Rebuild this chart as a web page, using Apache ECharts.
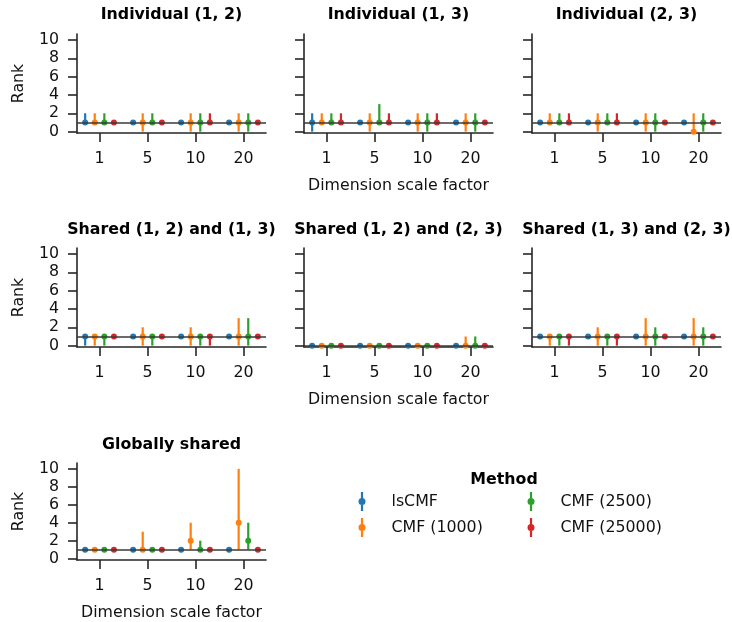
<!DOCTYPE html>
<html>
<head>
<meta charset="utf-8">
<script src="https://cdn.jsdelivr.net/npm/echarts@6/dist/echarts.min.js"></script>
<style>
  html, body { margin: 0; padding: 0; background: #ffffff; }
  #chart { width: 732px; height: 622px; }
</style>
</head>
<body>
<div id="chart"></div>
<script>
// Dimension scale factors (x categories) and the compared methods
const scaleFactors = ['1', '5', '10', '20'];
const methods = ['lsCMF', 'CMF (1000)', 'CMF (2500)', 'CMF (25000)'];
const panelTitles = [
  'Individual (1, 2)', 'Individual (1, 3)', 'Individual (2, 3)',
  'Shared (1, 2) and (1, 3)', 'Shared (1, 2) and (2, 3)', 'Shared (1, 3) and (2, 3)',
  'Globally shared'
];
// True rank of each structure (horizontal reference line)
const trueRanks = [1, 1, 1, 1, 0, 1, 1];
const yTicks = [0, 2, 4, 6, 8, 10];

// Estimated rank per method (rows) and scale factor (columns): [rank, lower, upper]
const individual12 = [
  [[1, 1, 2], [1, 1, 1], [1, 1, 1], [1, 1, 1]],
  [[1, 1, 2], [1, 0, 2], [1, 0, 2], [1, 0, 2]],
  [[1, 1, 2], [1, 1, 2], [1, 0, 2], [1, 0, 2]],
  [[1, 1, 1], [1, 1, 1], [1, 1, 2], [1, 1, 1]]
];
const individual13 = [
  [[1, 0, 2], [1, 1, 1], [1, 1, 1], [1, 1, 1]],
  [[1, 1, 2], [1, 0, 2], [1, 0, 2], [1, 0, 2]],
  [[1, 1, 2], [1, 1, 3], [1, 0, 2], [1, 0, 2]],
  [[1, 1, 2], [1, 1, 2], [1, 1, 2], [1, 1, 1]]
];
const individual23 = [
  [[1, 1, 1], [1, 1, 1], [1, 1, 1], [1, 1, 1]],
  [[1, 1, 2], [1, 0, 2], [1, 0, 2], [0, 0, 2]],
  [[1, 1, 2], [1, 1, 2], [1, 0, 2], [1, 0, 2]],
  [[1, 1, 2], [1, 1, 2], [1, 1, 1], [1, 1, 1]]
];
const shared12and13 = [
  [[1, 0, 1], [1, 1, 1], [1, 1, 1], [1, 1, 1]],
  [[1, 0, 1], [1, 0, 2], [1, 0, 2], [1, 0, 3]],
  [[1, 0, 1], [1, 0, 1], [1, 0, 1], [1, 0, 3]],
  [[1, 1, 1], [1, 1, 1], [1, 0, 1], [1, 1, 1]]
];
const shared12and23 = [
  [[0, 0, 0], [0, 0, 0], [0, 0, 0], [0, 0, 0]],
  [[0, 0, 0], [0, 0, 0], [0, 0, 0], [0, 0, 1]],
  [[0, 0, 0], [0, 0, 0], [0, 0, 0], [0, 0, 1]],
  [[0, 0, 0], [0, 0, 0], [0, 0, 0], [0, 0, 0]]
];
const shared13and23 = [
  [[1, 1, 1], [1, 1, 1], [1, 1, 1], [1, 1, 1]],
  [[1, 0, 1], [1, 0, 2], [1, 0, 3], [1, 0, 3]],
  [[1, 0, 1], [1, 0, 1], [1, 0, 2], [1, 0, 2]],
  [[1, 0, 1], [1, 0, 1], [1, 1, 1], [1, 1, 1]]
];
const globallyShared = [
  [[1, 1, 1], [1, 1, 1], [1, 1, 1], [1, 1, 1]],
  [[1, 1, 1], [1, 1, 3], [2, 1, 4], [4, 1, 10]],
  [[1, 1, 1], [1, 1, 1], [1, 1, 2], [2, 1, 4]],
  [[1, 1, 1], [1, 1, 1], [1, 1, 1], [1, 1, 1]]
];

const panelData = [
  individual12, individual13, individual23,
  shared12and13, shared12and23, shared13and23,
  globallyShared
];

// ---- styling / layout ----
const colors = ['#1f77b4', '#ff7f0e', '#2ca02c', '#d62728'];
const dodge = [-0.3, -0.1, 0.1, 0.3];
const FONT = 'DejaVu Sans';
const FS = 15.8;
const TEXT = '#111111';
const SPINE = '#262626';
const colLeft = [77, 304, 532];
const rowTop = [34, 248, 463];
const GRID_W = 189;
const GRID_H = 99;
const panelPos = [[0, 0], [0, 1], [0, 2], [1, 0], [1, 1], [1, 2], [2, 0]];
const showXName = [false, true, false, false, true, false, true];

const grids = [], xAxes = [], yAxes = [], titles = [], series = [];

panelPos.forEach(([r, c], p) => {
  grids.push({ left: colLeft[c], top: rowTop[r], width: GRID_W, height: GRID_H });

  xAxes.push({
    type: 'value', gridIndex: p, min: -0.47, max: 3.47,
    name: showXName[p] ? 'Dimension scale factor' : '',
    nameLocation: 'middle', nameGap: 45,
    nameTextStyle: { fontFamily: FONT, fontSize: FS, color: TEXT },
    axisLine: { onZero: false, lineStyle: { color: SPINE, width: 1.6 } },
    axisTick: { length: 9, customValues: [0, 1, 2, 3], lineStyle: { color: SPINE, width: 1.6 } },
    axisLabel: {
      customValues: [0, 1, 2, 3], margin: 18,
      fontFamily: FONT, fontSize: FS, color: TEXT,
      formatter: v => scaleFactors[Math.round(v)]
    },
    splitLine: { show: false }
  });

  yAxes.push({
    type: 'value', gridIndex: p, min: -0.15, max: 10.65,
    name: c === 0 ? 'Rank' : '',
    nameLocation: 'middle', nameGap: 50,
    nameTextStyle: { fontFamily: FONT, fontSize: FS, color: TEXT },
    axisLine: { show: true, onZero: false, lineStyle: { color: SPINE, width: 1.6 } },
    axisTick: { show: true, length: 9, customValues: yTicks, lineStyle: { color: SPINE, width: 1.6 } },
    axisLabel: {
      show: c === 0, customValues: yTicks, margin: 18,
      fontFamily: FONT, fontSize: FS, color: TEXT
    },
    splitLine: { show: false }
  });

  titles.push({
    text: panelTitles[p],
    left: colLeft[c] + GRID_W / 2, top: rowTop[r] - (r === 0 ? 27 : 26),
    textAlign: 'center', padding: 0,
    textStyle: { fontFamily: FONT, fontSize: FS, fontWeight: 'bold', color: '#000' }
  });

  // reference line at the true rank
  series.push({
    type: 'line', xAxisIndex: p, yAxisIndex: p, data: [], z: 1,
    markLine: {
      silent: true, symbol: 'none', animation: false,
      label: { show: false },
      lineStyle: { color: '#3a3a3a', width: 1.6, type: 'solid' },
      emphasis: { disabled: true },
      data: [{ yAxis: trueRanks[p] }]
    }
  });

  methods.forEach((m, k) => {
    const rows = panelData[p][k];
    // interval bars
    series.push({
      type: 'custom', name: m, xAxisIndex: p, yAxisIndex: p, z: 2,
      itemStyle: { color: colors[k] },
      encode: { x: 0, y: [1, 2] },
      data: rows.map((d, i) => [i + dodge[k], d[1], d[2]]),
      renderItem: (params, api) => {
        const lo = api.value(1), hi = api.value(2);
        if (lo === hi) return null;
        const a = api.coord([api.value(0), lo]);
        const b = api.coord([api.value(0), hi]);
        return {
          type: 'line',
          shape: { x1: a[0], y1: a[1], x2: b[0], y2: b[1] },
          style: { stroke: colors[k], lineWidth: 2.2 }
        };
      }
    });
    // point estimates
    series.push({
      type: 'scatter', name: m, xAxisIndex: p, yAxisIndex: p, z: 3,
      symbol: 'circle', symbolSize: 6, clip: false,
      itemStyle: { color: colors[k], opacity: 1 },
      data: rows.map((d, i) => [i + dodge[k], d[0]])
    });
  });
});

titles.push({
  text: 'Method', left: 504, top: 472, textAlign: 'center', padding: 0,
  textStyle: { fontFamily: FONT, fontSize: FS, fontWeight: 'bold', color: '#000' }
});

// legend glyph: a vertical interval with a dot in the middle
const legendIcon = 'path://M2.4,0 L4.6,0 L4.6,19 L2.4,19 Z M0,9.5 A3.5,3.5 0 1,1 7,9.5 A3.5,3.5 0 1,1 0,9.5 Z';
const legendBase = {
  orient: 'vertical', padding: 0, itemWidth: 7, itemHeight: 19, itemGap: 7,
  selectedMode: false, top: 492,
  textStyle: { fontFamily: FONT, fontSize: FS, color: TEXT, padding: [0, 0, 0, 21] }
};

const chart = echarts.init(document.getElementById('chart'), null, { renderer: 'canvas' });
chart.setOption({
  animation: false,
  backgroundColor: '#ffffff',
  title: titles,
  grid: grids,
  xAxis: xAxes,
  yAxis: yAxes,
  legend: [
    Object.assign({}, legendBase, { left: 358.5, data: methods.slice(0, 2).map(n => ({ name: n, icon: legendIcon })) }),
    Object.assign({}, legendBase, { left: 527.5, data: methods.slice(2, 4).map(n => ({ name: n, icon: legendIcon })) })
  ],
  series: series
});
</script>
</body>
</html>
